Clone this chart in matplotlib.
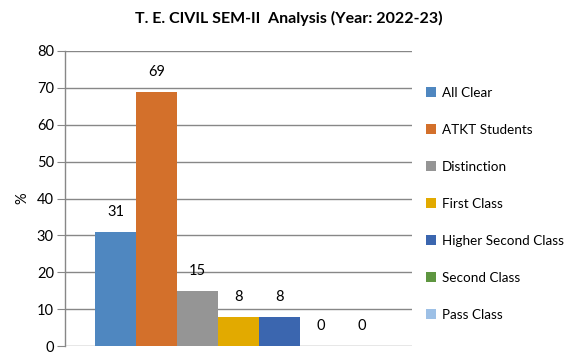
import matplotlib
matplotlib.use("Agg")
import matplotlib.pyplot as plt
from matplotlib.patches import Patch

categories = ["All Clear", "ATKT Students", "Distinction", "First Class",
              "Higher Second Class", "Second Class", "Pass Class"]
values = [31, 69, 15, 8, 8, 0, 0]
colors = ["#4F87C0", "#D3702B", "#959595", "#E2AA00", "#3B66AF", "#5E9640", "#9DC0E6"]
yticks = [0, 10, 20, 30, 40, 50, 60, 70, 80]
title = "T. E. CIVIL SEM-II  Analysis (Year: 2022-23)"

plt.rcParams['font.family'] = ['Lato', 'DejaVu Sans']

W, H = 577, 356
fig = plt.figure(figsize=(W/100, H/100), dpi=100)
left, right, top, bottom = 65, 412, 51, 346
ax = fig.add_axes([left/W, 1-bottom/H, (right-left)/W, (bottom-top)/H])

x = list(range(len(values)))
ax.bar(x, values, width=1.0, color=colors, zorder=3)
for xi, v in zip(x, values):
    ax.annotate(str(v), (xi, v), xytext=(0, 9), textcoords="offset points",
                ha="center", va="bottom", fontsize=10.5, color="#000000")

pad = (right-left)/41 - 7
ax.set_xlim(-0.5 - pad/2, 6.5 + pad/2)
ax.set_ylim(0, 80)
ax.set_yticks(yticks)
ax.set_xticks([])
ax.yaxis.grid(True, color="#878787", linewidth=1.0, zorder=0)
for s in ["top", "right", "bottom"]:
    ax.spines[s].set_visible(False)
ax.spines["left"].set_color("#878787")
ax.spines["left"].set_linewidth(1.0)
ax.tick_params(axis="y", length=6, color="#878787", labelsize=10.5, pad=2)
ax.set_ylabel("%", fontsize=10.5, labelpad=5)

fig.text(0.5, 1-18/H, title, ha="center", va="center", fontsize=11.5, fontweight="bold")

handles = [Patch(facecolor=c, edgecolor="none") for c in colors]
leg = fig.legend(handles, categories, loc="upper left",
                 bbox_to_anchor=(426/W, 1-87/H), frameon=False, fontsize=9.7,
                 handlelength=0.75, handleheight=0.75, handletextpad=0.45,
                 labelspacing=1.85, borderaxespad=0, borderpad=0)

fig.savefig("out.png", dpi=100)
